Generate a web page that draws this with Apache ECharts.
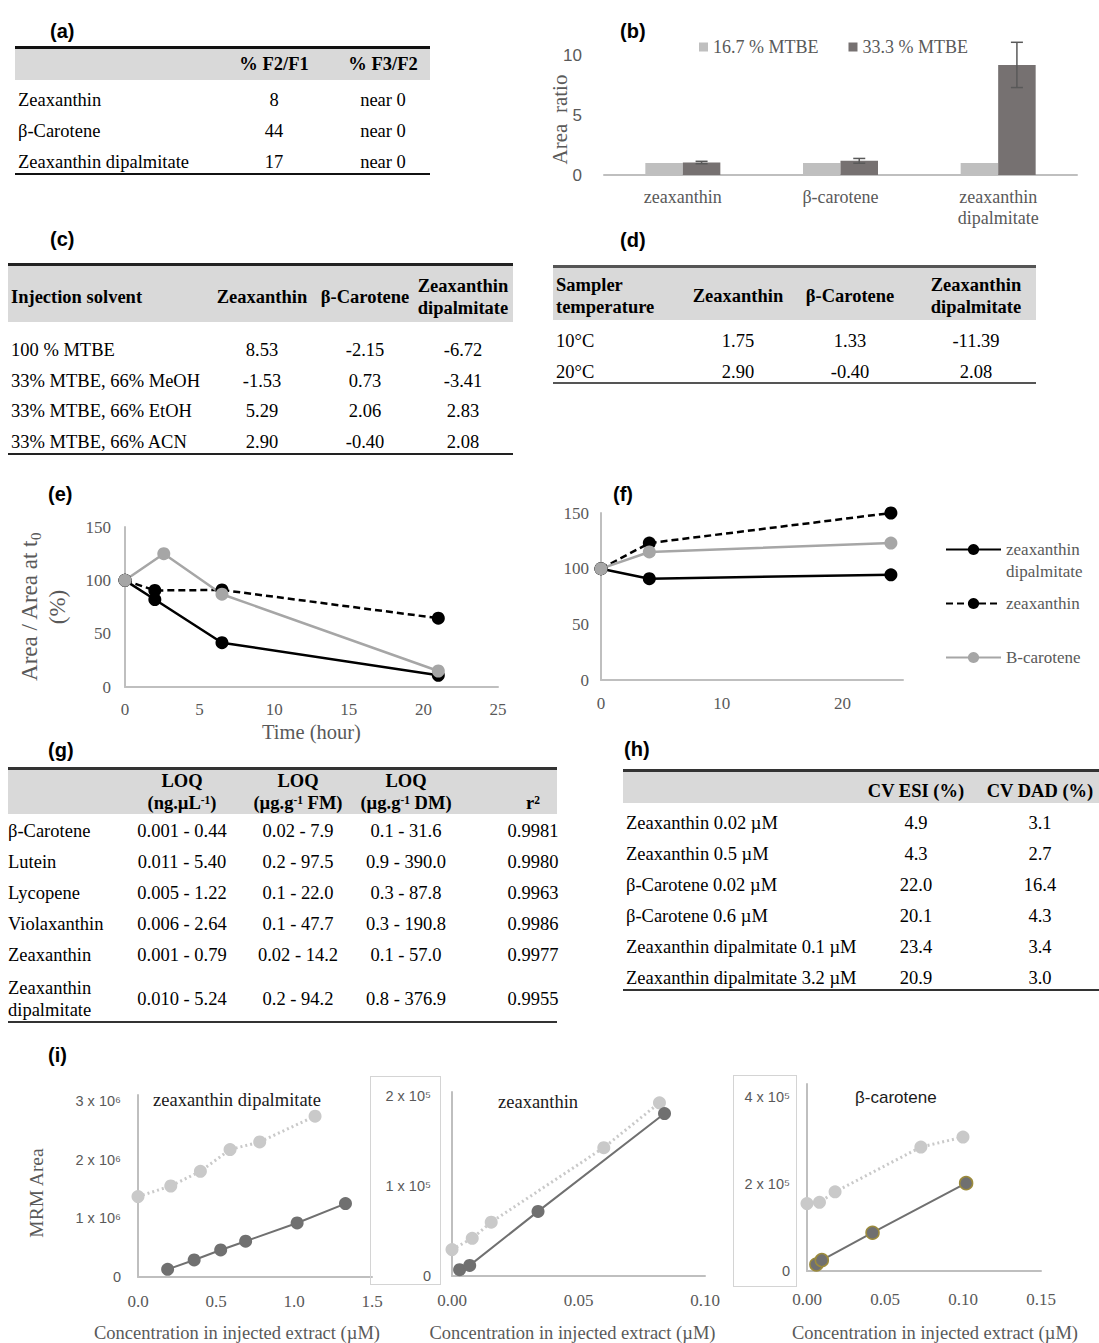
<!DOCTYPE html>
<html><head><meta charset="utf-8">
<script src="https://cdn.jsdelivr.net/npm/echarts@6/dist/echarts.min.js"></script>
<style>
html,body{margin:0;padding:0;background:#fff;}
#wrap{position:relative;width:1099px;height:1343px;overflow:hidden;background:#fff;}
#chart{position:absolute;left:0;top:0;width:1099px;height:1343px;}
.t{position:absolute;font-family:"Liberation Serif","Times New Roman",serif;font-size:18.5px;color:#000;white-space:nowrap;line-height:22px;z-index:3;}
.c{transform:translate(-50%,-50%);text-align:center;}
.l{transform:translate(0,-50%);text-align:left;}
.b{font-weight:bold;}
.lab{position:absolute;font-family:"Liberation Sans",Arial,sans-serif;font-weight:bold;font-size:20px;transform:translate(0,-50%);z-index:3;}
.box{position:absolute;z-index:2;}
sup{font-size:0.62em;vertical-align:0.45em;line-height:0;}
</style></head>
<body>
<div id="wrap"><div id="chart"></div></div>
<script>
// ===================== DATA =====================
// (a)
const tabA_header = ['', '% F2/F1', '% F3/F2'];
const tabA_rows = [
  ['Zeaxanthin', '8', 'near 0'],
  ['β-Carotene', '44', 'near 0'],
  ['Zeaxanthin dipalmitate', '17', 'near 0']
];
// (b)
const bCategories = ['zeaxanthin', 'β-carotene', 'zeaxanthin\ndipalmitate'];
const bSeriesNames = ['16.7 % MTBE', '33.3 % MTBE'];
const bLight = [1.0, 1.0, 1.0];
const bDark = [1.05, 1.19, 9.24];
const bDarkErr = [0.1, 0.2, 1.9];
// (c)
const tabC_header = ['Injection solvent', 'Zeaxanthin', 'β-Carotene', 'Zeaxanthin\ndipalmitate'];
const tabC_rows = [
  ['100 % MTBE', '8.53', '-2.15', '-6.72'],
  ['33% MTBE, 66% MeOH', '-1.53', '0.73', '-3.41'],
  ['33% MTBE, 66% EtOH', '5.29', '2.06', '2.83'],
  ['33% MTBE, 66% ACN', '2.90', '-0.40', '2.08']
];
// (d)
const tabD_header = ['Sampler\ntemperature', 'Zeaxanthin', 'β-Carotene', 'Zeaxanthin\ndipalmitate'];
const tabD_rows = [
  ['10°C', '1.75', '1.33', '-11.39'],
  ['20°C', '2.90', '-0.40', '2.08']
];
// (e) time (hour) vs area / area at t0 (%)
const lineNames = ['zeaxanthin dipalmitate', 'zeaxanthin', 'B-carotene'];
const eDipalmitate = [[0, 100], [2, 82], [6.5, 41.5], [21, 11]];
const eZeaxanthin  = [[0, 100], [2, 90.5], [6.5, 91], [21, 64.5]];
const eBcarotene   = [[0, 100], [2.6, 125], [6.5, 87], [21, 15]];
// (f)
const fDipalmitate = [[0, 100], [4, 91], [24, 94.5]];
const fZeaxanthin  = [[0, 100], [4, 123], [24, 150]];
const fBcarotene   = [[0, 100], [4, 115], [24, 123]];
// (g)
const tabG_header = ['', 'LOQ\n(ng.µL<sup>-1</sup>)', 'LOQ\n(µg.g<sup>-1</sup> FM)', 'LOQ\n(µg.g<sup>-1</sup> DM)', 'r<sup>2</sup>'];
const tabG_rows = [
  ['β-Carotene', '0.001 - 0.44', '0.02 - 7.9', '0.1 - 31.6', '0.9981'],
  ['Lutein', '0.011 - 5.40', '0.2 - 97.5', '0.9 - 390.0', '0.9980'],
  ['Lycopene', '0.005 - 1.22', '0.1 - 22.0', '0.3 - 87.8', '0.9963'],
  ['Violaxanthin', '0.006 - 2.64', '0.1 - 47.7', '0.3 - 190.8', '0.9986'],
  ['Zeaxanthin', '0.001 - 0.79', '0.02 - 14.2', '0.1 - 57.0', '0.9977'],
  ['Zeaxanthin\ndipalmitate', '0.010 - 5.24', '0.2 - 94.2', '0.8 - 376.9', '0.9955']
];
// (h)
const tabH_header = ['', 'CV ESI (%)', 'CV DAD (%)'];
const tabH_rows = [
  ['Zeaxanthin 0.02 µM', '4.9', '3.1'],
  ['Zeaxanthin 0.5 µM', '4.3', '2.7'],
  ['β-Carotene 0.02 µM', '22.0', '16.4'],
  ['β-Carotene 0.6 µM', '20.1', '4.3'],
  ['Zeaxanthin dipalmitate 0.1 µM', '23.4', '3.4'],
  ['Zeaxanthin dipalmitate 3.2 µM', '20.9', '3.0']
];
// (i) concentration (µM) vs MRM area
const iTitles = ['zeaxanthin dipalmitate', 'zeaxanthin', 'β-carotene'];
const i1Light = [[0, 1.37e6], [0.21, 1.55e6], [0.40, 1.80e6], [0.59, 2.17e6], [0.78, 2.30e6], [1.135, 2.74e6]];
const i1Dark  = [[0.19, 0.13e6], [0.36, 0.29e6], [0.53, 0.46e6], [0.69, 0.61e6], [1.02, 0.92e6], [1.33, 1.25e6]];
const i2Light = [[0, 2.95e4], [0.008, 4.2e4], [0.0155, 6.0e4], [0.060, 1.43e5], [0.082, 1.93e5]];
const i2Dark  = [[0.003, 0.7e4], [0.007, 1.18e4], [0.034, 7.2e4], [0.084, 1.81e5]];
const i3Light = [[0, 1.55e5], [0.008, 1.58e5], [0.018, 1.82e5], [0.073, 2.85e5], [0.100, 3.08e5]];
const i3Dark  = [[0.006, 1.5e4], [0.0095, 2.5e4], [0.042, 8.8e4], [0.102, 2.02e5]];
const iXTitle = 'Concentration in injected extract (µM)';

// ===================== TABLES (HTML) =====================
const wrap = document.getElementById('wrap');
function cell(html, x, y, align, bold) {
  const d = document.createElement('div');
  d.className = 't ' + align + (bold ? ' b' : '');
  d.style.left = x + 'px'; d.style.top = y + 'px';
  d.innerHTML = html.replace(/\n/g, '<br>');
  wrap.appendChild(d);
}
function box(x, y, w, h, css) {
  const d = document.createElement('div');
  d.className = 'box';
  d.style.left = x + 'px'; d.style.top = y + 'px';
  d.style.width = w + 'px'; d.style.height = h + 'px';
  Object.assign(d.style, css);
  wrap.appendChild(d);
}
function panelLabel(txt, x, y) {
  const d = document.createElement('div');
  d.className = 'lab'; d.textContent = txt;
  d.style.left = x + 'px'; d.style.top = y + 'px';
  wrap.appendChild(d);
}
function buildTable(L, header, rows) {
  box(L.x0, L.top, L.x1 - L.x0, L.band - L.top, {background: '#d9d9d9'});
  box(L.x0, L.top - 1, L.x1 - L.x0, 2.5, {background: L.rule});
  box(L.x0, L.bottom, L.x1 - L.x0, 1.8, {background: L.rule});
  header.forEach((h, j) => {
    if (!h) return;
    const y = Array.isArray(L.headY) ? L.headY[j] : L.headY;
    if (j === 0) cell(h, L.left, y, 'l', true);
    else cell(h, L.cols[j - 1], y, 'c', true);
  });
  rows.forEach((r, i) => r.forEach((v, j) => {
    if (j === 0) cell(v, L.left, L.rowY[i], 'l', false);
    else cell(v, L.cols[j - 1], L.rowY[i], 'c', false);
  }));
}
buildTable({x0: 15, x1: 430, top: 47, band: 80, bottom: 173, headY: 64, left: 18, cols: [274, 383], rowY: [100, 131, 162], rule: '#111'}, tabA_header, tabA_rows);
buildTable({x0: 8, x1: 513, top: 264, band: 322, bottom: 453, headY: 297, left: 11, cols: [262, 365, 463], rowY: [350, 381, 411, 442], rule: '#222'}, tabC_header, tabC_rows);
buildTable({x0: 553, x1: 1036, top: 266, band: 320, bottom: 382, headY: 296, left: 556, cols: [738, 850, 976], rowY: [341, 372], rule: '#555'}, tabD_header, tabD_rows);
buildTable({x0: 8, x1: 557, top: 768, band: 814, bottom: 1021, headY: [792, 792, 792, 792, 803], left: 8, cols: [182, 298, 406, 533], rowY: [831, 862, 893, 924, 955, 999], rule: '#333'}, tabG_header, tabG_rows);
buildTable({x0: 623, x1: 1099, top: 770, band: 803, bottom: 989, headY: 791, left: 626, cols: [916, 1040], rowY: [823, 854, 885, 916, 947, 978], rule: '#333'}, tabH_header, tabH_rows);

panelLabel('(a)', 50, 31); panelLabel('(b)', 620, 31);
panelLabel('(c)', 50, 239); panelLabel('(d)', 620, 240);
panelLabel('(e)', 48, 494); panelLabel('(f)', 613, 494);
panelLabel('(g)', 48, 750); panelLabel('(h)', 624, 749);
panelLabel('(i)', 48, 1055);
// faint chart-area frames of panel (i)
box(370, 1076, 71, 209, {border: '1px solid #d4d4d4', boxSizing: 'border-box'});
box(733, 1075, 64, 212, {border: '1px solid #d4d4d4', boxSizing: 'border-box'});

// ===================== CHART =====================
const serif = '"Liberation Serif","Times New Roman",serif';
const sans = '"Liberation Sans",Arial,sans-serif';
const axGray = '#bfbfbf';
const lblGray = '#595959';
const onStep = (v, s) => Math.abs(v / s - Math.round(v / s)) < 1e-6;
const barW = 37.5;

const chart = echarts.init(document.getElementById('chart'), null, {renderer: 'svg'});

function valAxis(grid, min, max, step, fmt, font, size, margin, extra) {
  return Object.assign({
    type: 'value', gridIndex: grid, min: min, max: max, interval: step,
    axisLine: {show: true, onZero: false, lineStyle: {color: axGray, width: 2}},
    axisTick: {show: false}, splitLine: {show: false},
    axisLabel: {
      margin: margin, color: lblGray, fontFamily: font, fontSize: size, showMaxLabel: true,
      formatter: v => onStep(v, step) ? fmt(v) : ''
    }
  }, extra || {});
}
const sci = (exp) => (v => v === 0 ? '0' : Math.round(v / Math.pow(10, exp)) + ' x 10' + (exp === 6 ? '⁶' : '⁵'));

function lineSeries(name, data, axis, color, dashed) {
  return {
    type: 'line', name: name, xAxisIndex: axis, yAxisIndex: axis, data: data,
    symbol: 'circle', symbolSize: 13, showSymbol: true,
    lineStyle: {color: color, width: 2.5, type: dashed ? [7, 4] : 'solid'},
    itemStyle: {color: color}, z: 3
  };
}
function calSeries(name, data, axis, light, border) {
  const col = light ? '#c9c9c9' : '#707070';
  return {
    type: 'line', name: name, xAxisIndex: axis, yAxisIndex: axis, data: data,
    symbol: 'circle', symbolSize: 13,
    lineStyle: {color: col, width: light ? 3 : 2, type: light ? [2, 3] : 'solid'},
    itemStyle: {color: col, borderColor: border || col, borderWidth: border ? 1.5 : 0},
    z: light ? 2 : 3
  };
}
const xTitleStyle = (pad) => ({fontFamily: serif, fontSize: 18.5, color: lblGray, padding: pad});

const legText = {fontFamily: serif, fontSize: 17, color: lblGray};
const option = {
  animation: false,
  title: [
    {text: iTitles[0], left: 153, top: 1090, padding: 0, textStyle: {fontFamily: serif, fontSize: 18.5, fontWeight: 'normal', color: '#1a1a1a'}},
    {text: iTitles[1], left: 498, top: 1092, padding: 0, textStyle: {fontFamily: serif, fontSize: 18.5, fontWeight: 'normal', color: '#1a1a1a'}},
    {text: iTitles[2], left: 855, top: 1089, padding: 0, textStyle: {fontFamily: sans, fontSize: 17, fontWeight: 'normal', color: '#1a1a1a'}}
  ],
  legend: [
    {data: bSeriesNames, left: 699, top: 38, icon: 'rect', itemWidth: 9, itemHeight: 9, itemGap: 30, padding: 0,
      selectedMode: false, textStyle: {fontFamily: serif, fontSize: 18, color: lblGray}},
    {data: [lineNames[0]], left: 945, top: 541, itemWidth: 55, itemHeight: 14, padding: 0, selectedMode: false,
      formatter: () => '{a|zeaxanthin}\n{a|dipalmitate}',
      textStyle: {padding: [22, 0, 0, 0], rich: {a: {fontFamily: serif, fontSize: 17, color: lblGray, lineHeight: 22}}}},
    {data: [lineNames[1]], left: 945, top: 595, itemWidth: 55, itemHeight: 14, padding: 0, selectedMode: false, textStyle: legText},
    {data: [lineNames[2]], left: 945, top: 649, itemWidth: 55, itemHeight: 14, padding: 0, selectedMode: false, textStyle: legText}
  ],
  grid: [
    {left: 604, top: 38, width: 473, height: 137},   // b
    {left: 125, top: 527, width: 373, height: 160},  // e
    {left: 601, top: 513, width: 302, height: 167},  // f
    {left: 138, top: 1095, width: 234, height: 183}, // i1
    {left: 452, top: 1092, width: 253, height: 185}, // i2
    {left: 807, top: 1084, width: 234, height: 188}  // i3
  ],
  xAxis: [
    {type: 'category', gridIndex: 0, data: bCategories,
      axisLine: {lineStyle: {color: axGray, width: 2}}, axisTick: {show: false},
      axisLabel: {margin: 11, color: lblGray, fontFamily: serif, fontSize: 18, lineHeight: 21}},
    valAxis(1, 0, 25, 5, v => String(v), serif, 17, 14,
      {name: 'Time (hour)', nameLocation: 'middle', nameGap: 34, nameTextStyle: {fontFamily: serif, fontSize: 20.5, color: lblGray}}),
    valAxis(2, 0, 25, 10, v => String(v), serif, 17, 15),
    valAxis(3, 0, 1.5, 0.5, v => v.toFixed(1), serif, 17, 16,
      {name: iXTitle, nameLocation: 'middle', nameGap: 46, nameTextStyle: xTitleStyle([0, 36, 0, 0])}),
    valAxis(4, 0, 0.1, 0.05, v => v.toFixed(2), serif, 17, 16,
      {name: iXTitle, nameLocation: 'middle', nameGap: 47, nameTextStyle: xTitleStyle([0, 12, 0, 0])}),
    valAxis(5, 0, 0.15, 0.05, v => v.toFixed(2), serif, 17, 20,
      {name: iXTitle, nameLocation: 'middle', nameGap: 52, nameTextStyle: xTitleStyle([0, 0, 0, 22])})
  ],
  yAxis: [
    valAxis(0, 0, 11.5, 5, v => String(v), sans, 17, 22,
      {axisLine: {show: false}, name: 'Area  ratio', nameLocation: 'middle', nameGap: 34, nameMoveOverlap: false,
        nameTextStyle: {fontFamily: serif, fontSize: 21, color: lblGray, padding: [0, 26, 0, 0]}}),
    valAxis(1, 0, 150, 50, v => String(v), serif, 17, 14,
      {name: '{a|Area / Area at t}{s|0}\n{a|(%)}', nameLocation: 'middle', nameGap: 54,
        nameTextStyle: {rich: {a: {fontFamily: serif, fontSize: 23, color: lblGray, lineHeight: 28}, s: {fontFamily: serif, fontSize: 15, color: lblGray, verticalAlign: 'bottom', lineHeight: 28}}}}),
    valAxis(2, 0, 150, 50, v => String(v), serif, 17, 12),
    valAxis(3, 0, 3.1e6, 1e6, sci(6), sans, 14.5, 17,
      {name: 'MRM Area', nameLocation: 'middle', nameGap: 92, nameTextStyle: {fontFamily: serif, fontSize: 19.5, color: lblGray, padding: [0, 14, 0, 0]}}),
    valAxis(4, 0, 2.05e5, 1e5, sci(5), sans, 14.5, 21),
    valAxis(5, 0, 4.3e5, 2e5, sci(5), sans, 14.5, 17)
  ],
  series: [
    {type: 'bar', name: bSeriesNames[0], xAxisIndex: 0, yAxisIndex: 0, data: bLight, barWidth: barW, barGap: '0%', itemStyle: {color: '#bfbfbf'}},
    {type: 'bar', name: bSeriesNames[1], xAxisIndex: 0, yAxisIndex: 0, data: bDark, barWidth: barW, barGap: '0%', itemStyle: {color: '#767171'}},
    {type: 'custom', name: 'err', xAxisIndex: 0, yAxisIndex: 0, z: 5,
      data: bDark.map((v, i) => [i, v - bDarkErr[i], v + bDarkErr[i]]),
      encode: {x: 0, y: [1, 2]},
      renderItem: (params, api) => {
        const lo = api.coord([api.value(0), api.value(1)]);
        const hi = api.coord([api.value(0), api.value(2)]);
        const x = lo[0] + barW / 2, cap = 6;
        const st = {stroke: '#595959', lineWidth: 1.5};
        return {type: 'group', children: [
          {type: 'line', shape: {x1: x, y1: hi[1], x2: x, y2: lo[1]}, style: st},
          {type: 'line', shape: {x1: x - cap, y1: hi[1], x2: x + cap, y2: hi[1]}, style: st},
          {type: 'line', shape: {x1: x - cap, y1: lo[1], x2: x + cap, y2: lo[1]}, style: st}
        ]};
      }},
    lineSeries(lineNames[0], eDipalmitate, 1, '#000000', false),
    lineSeries(lineNames[1], eZeaxanthin, 1, '#000000', true),
    lineSeries(lineNames[2], eBcarotene, 1, '#a6a6a6', false),
    lineSeries(lineNames[0], fDipalmitate, 2, '#000000', false),
    lineSeries(lineNames[1], fZeaxanthin, 2, '#000000', true),
    lineSeries(lineNames[2], fBcarotene, 2, '#a6a6a6', false),
    calSeries('i1 spiked', i1Light, 3, true),
    calSeries('i1 standard', i1Dark, 3, false),
    calSeries('i2 spiked', i2Light, 4, true),
    calSeries('i2 standard', i2Dark, 4, false),
    calSeries('i3 spiked', i3Light, 5, true),
    calSeries('i3 standard', i3Dark, 5, false, '#9c8b3c')
  ]
};
chart.setOption(option);
</script>
</body></html>
